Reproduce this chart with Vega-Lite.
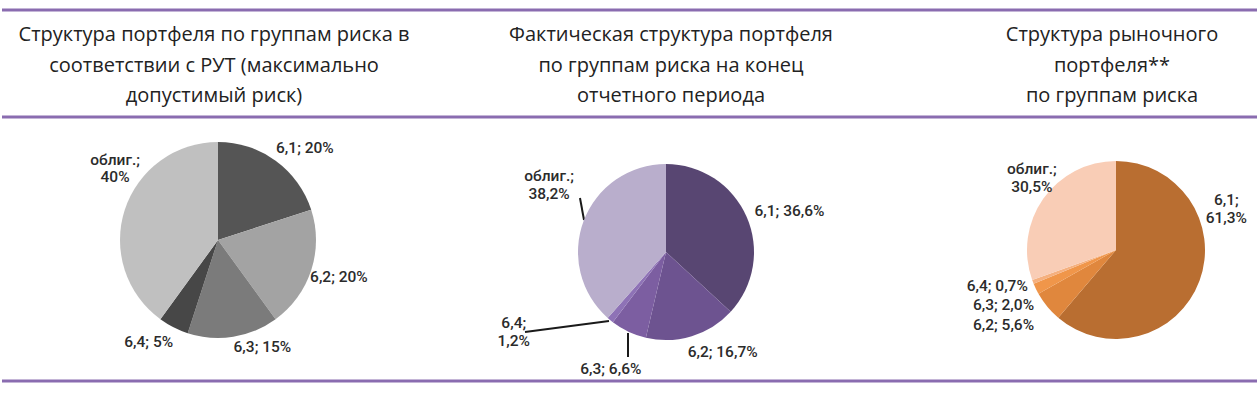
{
  "$schema": "https://vega.github.io/schema/vega-lite/v6.json",
  "background": "#ffffff",
  "padding": 0,
  "spacing": 0,
  "bounds": "flush",
  "config": {"view": {"stroke": null}, "concat": {"spacing": 0}},
  "resolve": {"scale": {"color": "independent", "theta": "independent"}},
  "hconcat": [
    {
      "width": 419, "height": 397,
      "data": {"values": [
        {"group": "6,1", "value": 20, "label": "6,1; 20%"},
        {"group": "6,2", "value": 20, "label": "6,2; 20%"},
        {"group": "6,3", "value": 15, "label": "6,3; 15%"},
        {"group": "6,4", "value": 5, "label": "6,4; 5%"},
        {"group": "облиг.", "value": 40, "label": "облиг.;\n40%"}
      ]},
      "layer": [
        {"data": {"values": [{}]}, "mark": {"type": "rule", "stroke": "#8a6cb0", "strokeWidth": 3}, "encoding": {"x": {"value": 0}, "x2": {"value": "width"}, "y": {"value": 10}}},
        {"data": {"values": [{}]}, "mark": {"type": "rule", "stroke": "#8a6cb0", "strokeWidth": 3}, "encoding": {"x": {"value": 0}, "x2": {"value": "width"}, "y": {"value": 117}}},
        {"data": {"values": [{}]}, "mark": {"type": "rule", "stroke": "#8a6cb0", "strokeWidth": 3}, "encoding": {"x": {"value": 0}, "x2": {"value": "width"}, "y": {"value": 381}}},
        {"data": {"values": [{}]}, "mark": {"type": "text", "x": 212, "y": 35, "align": "center", "baseline": "middle", "lineHeight": 30.5, "font": "Open Sans", "fontSize": 20, "fill": "#222222", "text": ["Структура портфеля по группам риска в", "соответствии с РУТ (максимально", "допустимый риск)"]}, "encoding": {}},
        {
          "mark": {"type": "arc", "x": 216, "y": 240, "outerRadius": 98},
          "encoding": {
            "theta": {"field": "value", "type": "quantitative", "stack": true},
            "order": {"field": "group", "type": "ordinal"},
            "color": {"field": "group", "type": "nominal", "legend": null,
              "scale": {"domain": ["6,1", "6,2", "6,3", "6,4", "облиг."], "range": ["#555555", "#a3a3a3", "#7b7b7b", "#474747", "#c0c0c0"]}}
          }
        },
        {
          "mark": {"type": "text", "x": 216, "y": 240, "radius": 124, "align": "center", "baseline": "middle", "lineBreak": "\n", "lineHeight": 17, "font": "Roboto", "fontSize": 15.5, "fontWeight": 500, "fill": "#2b2b2b",
            "dx": {"expr": "datum.group==='6,1'?14:datum.group==='6,2'?3:datum.group==='6,3'?25:datum.group==='6,4'?-13:15"},
            "dy": {"expr": "datum.group==='6,1'?8:datum.group==='6,2'?-1:datum.group==='6,3'?-15:datum.group==='6,4'?-8:-42"}},
          "encoding": {
            "theta": {"field": "value", "type": "quantitative", "stack": true},
            "order": {"field": "group", "type": "ordinal"},
            "detail": {"field": "group", "type": "nominal"},
            "text": {"field": "label", "type": "nominal"}
          }
        }
      ]
    },
    {
      "width": 419, "height": 397,
      "data": {"values": [
        {"group": "6,1", "value": 36.6, "label": "6,1; 36,6%"},
        {"group": "6,2", "value": 16.7, "label": "6,2; 16,7%"},
        {"group": "6,3", "value": 6.6, "label": "6,3; 6,6%"},
        {"group": "6,4", "value": 1.2, "label": "6,4;\n1,2%"},
        {"group": "облиг.", "value": 38.2, "label": "облиг.;\n38,2%"}
      ]},
      "layer": [
        {"data": {"values": [{}]}, "mark": {"type": "rule", "stroke": "#8a6cb0", "strokeWidth": 3}, "encoding": {"x": {"value": 0}, "x2": {"value": "width"}, "y": {"value": 10}}},
        {"data": {"values": [{}]}, "mark": {"type": "rule", "stroke": "#8a6cb0", "strokeWidth": 3}, "encoding": {"x": {"value": 0}, "x2": {"value": "width"}, "y": {"value": 117}}},
        {"data": {"values": [{}]}, "mark": {"type": "rule", "stroke": "#8a6cb0", "strokeWidth": 3}, "encoding": {"x": {"value": 0}, "x2": {"value": "width"}, "y": {"value": 381}}},
        {"data": {"values": [{}]}, "mark": {"type": "text", "x": 250, "y": 35, "align": "center", "baseline": "middle", "lineHeight": 30.5, "font": "Open Sans", "fontSize": 20, "fill": "#222222", "text": ["Фактическая структура портфеля", "по группам риска на конец", "отчетного периода"]}, "encoding": {}},
        {"data": {"values": [{}]}, "mark": {"type": "rule", "stroke": "#1a1a1a", "strokeWidth": 2}, "encoding": {"x": {"value": 159}, "y": {"value": 198}, "x2": {"value": 163}, "y2": {"value": 220}}},
        {"data": {"values": [{}]}, "mark": {"type": "rule", "stroke": "#1a1a1a", "strokeWidth": 2}, "encoding": {"x": {"value": 104}, "y": {"value": 332}, "x2": {"value": 188}, "y2": {"value": 321}}},
        {"data": {"values": [{}]}, "mark": {"type": "rule", "stroke": "#1a1a1a", "strokeWidth": 2}, "encoding": {"x": {"value": 207}, "y": {"value": 333}, "x2": {"value": 207}, "y2": {"value": 357}}},
        {
          "mark": {"type": "arc", "x": 245, "y": 252, "outerRadius": 88},
          "encoding": {
            "theta": {"field": "value", "type": "quantitative", "stack": true},
            "order": {"field": "group", "type": "ordinal"},
            "color": {"field": "group", "type": "nominal", "legend": null,
              "scale": {"domain": ["6,1", "6,2", "6,3", "6,4", "облиг."], "range": ["#584672", "#6d5390", "#7c5ea1", "#8e72b6", "#b9aecc"]}}
          }
        },
        {
          "mark": {"type": "text", "x": 245, "y": 252, "radius": 125, "align": "center", "baseline": "middle", "lineBreak": "\n", "lineHeight": 18, "font": "Roboto", "fontSize": 15.5, "fontWeight": 500, "fill": "#2b2b2b",
            "dx": {"expr": "datum.group==='6,1'?9:datum.group==='6,2'?20:datum.group==='6,3'?-2:datum.group==='6,4'?-73:0"},
            "dy": {"expr": "datum.group==='6,1'?9:datum.group==='6,2'?-20:datum.group==='6,3'?4:datum.group==='6,4'?-26:-32"}},
          "encoding": {
            "theta": {"field": "value", "type": "quantitative", "stack": true},
            "order": {"field": "group", "type": "ordinal"},
            "detail": {"field": "group", "type": "nominal"},
            "text": {"field": "label", "type": "nominal"}
          }
        }
      ]
    },
    {
      "width": 419, "height": 397,
      "data": {"values": [
        {"group": "6,1", "value": 61.3, "label": "6,1;\n61,3%"},
        {"group": "6,2", "value": 5.6, "label": "6,2; 5,6%"},
        {"group": "6,3", "value": 2.0, "label": "6,3; 2,0%"},
        {"group": "6,4", "value": 0.7, "label": "6,4; 0,7%"},
        {"group": "облиг.", "value": 30.5, "label": "облиг.;\n30,5%"}
      ]},
      "layer": [
        {"data": {"values": [{}]}, "mark": {"type": "rule", "stroke": "#8a6cb0", "strokeWidth": 3}, "encoding": {"x": {"value": 0}, "x2": {"value": "width"}, "y": {"value": 10}}},
        {"data": {"values": [{}]}, "mark": {"type": "rule", "stroke": "#8a6cb0", "strokeWidth": 3}, "encoding": {"x": {"value": 0}, "x2": {"value": "width"}, "y": {"value": 117}}},
        {"data": {"values": [{}]}, "mark": {"type": "rule", "stroke": "#8a6cb0", "strokeWidth": 3}, "encoding": {"x": {"value": 0}, "x2": {"value": "width"}, "y": {"value": 381}}},
        {"data": {"values": [{}]}, "mark": {"type": "text", "x": 272, "y": 35, "align": "center", "baseline": "middle", "lineHeight": 30.5, "font": "Open Sans", "fontSize": 20, "fill": "#222222", "text": ["Структура рыночного", "портфеля**", "по группам риска"]}, "encoding": {}},
        {
          "mark": {"type": "arc", "x": 276, "y": 250, "outerRadius": 89},
          "encoding": {
            "theta": {"field": "value", "type": "quantitative", "stack": true},
            "order": {"field": "group", "type": "ordinal"},
            "color": {"field": "group", "type": "nominal", "legend": null,
              "scale": {"domain": ["6,1", "6,2", "6,3", "6,4", "облиг."], "range": ["#b96e31", "#e0873d", "#f0964a", "#f5b07f", "#f9cdb6"]}}
          }
        },
        {
          "mark": {"type": "text", "x": 276, "y": 250, "radius": 125, "align": "center", "baseline": "middle", "lineBreak": "\n", "lineHeight": 18, "font": "Roboto", "fontSize": 15.5, "fontWeight": 500, "fill": "#2b2b2b",
            "dx": {"expr": "datum.group==='6,1'?-7:datum.group==='6,2'?-16:datum.group==='6,3'?0:datum.group==='6,4'?-2:18"},
            "dy": {"expr": "datum.group==='6,1'?-93:datum.group==='6,2'?-4:datum.group==='6,3'?1:datum.group==='6,4'?-9:-9"}},
          "encoding": {
            "theta": {"field": "value", "type": "quantitative", "stack": true},
            "order": {"field": "group", "type": "ordinal"},
            "detail": {"field": "group", "type": "nominal"},
            "text": {"field": "label", "type": "nominal"}
          }
        }
      ]
    }
  ]
}
